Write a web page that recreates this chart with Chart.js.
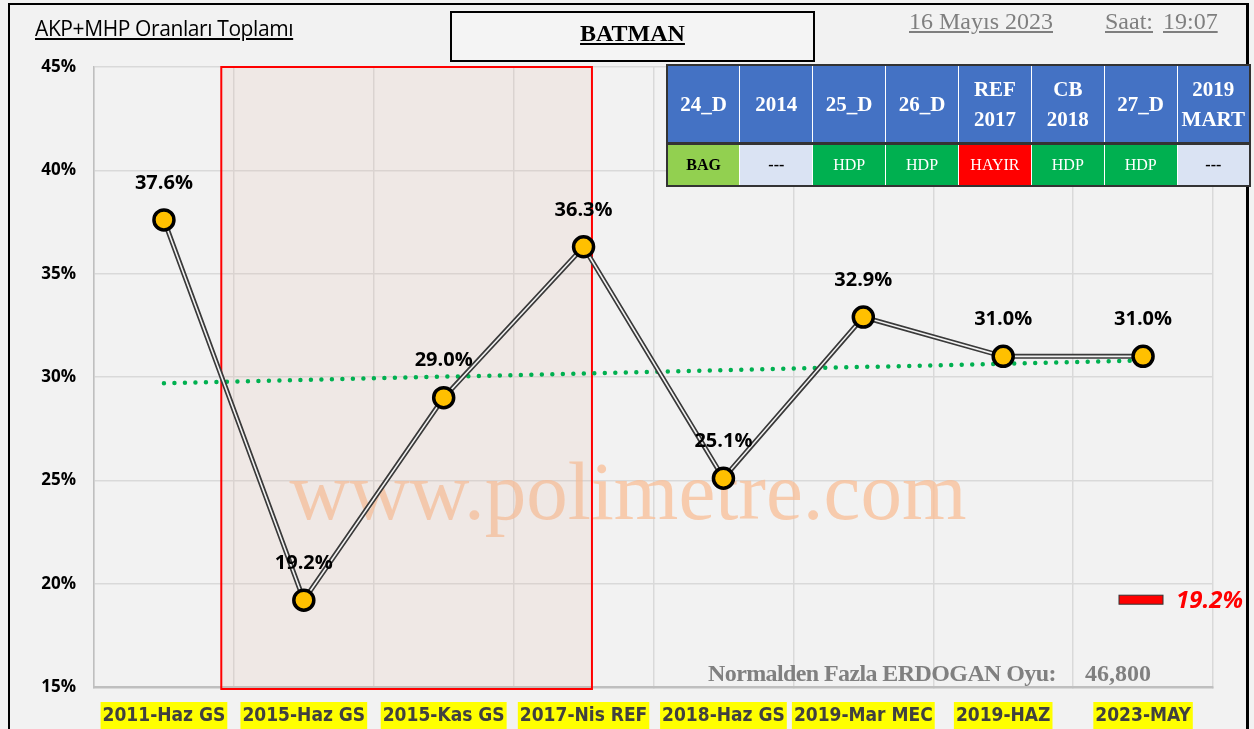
<!DOCTYPE html>
<html>
<head>
<meta charset="utf-8">
<script src="https://cdn.jsdelivr.net/npm/chart.js@4.4.0/dist/chart.umd.min.js"></script>
<style>
  html, body { margin: 0; padding: 0; background: #f2f2f2; }
  #wrap { position: relative; width: 1254px; height: 729px; overflow: hidden; }
  #frame { position: absolute; left: 8px; top: 3px; width: 1241px; height: 740px; border: 2px solid #000; border-right-width: 3px; box-sizing: border-box; }
  canvas { position: absolute; left: 0; top: 0; }
  .txt { position: absolute; white-space: nowrap; }
  #subtitle { left: 35px; top: 14px; font: 21px "Open Sans", sans-serif; text-decoration: underline; color: #000; letter-spacing: -0.4px; }
  #titlebox { left: 450px; top: 11px; width: 365px; height: 51px; border: 2px solid #000; box-sizing: border-box; background: #f4f4f4; }
  #title { left: 450px; top: 20px; width: 365px; text-align: center; font: bold 24px "Liberation Serif", serif; text-decoration: underline; }
  #date { left: 909px; top: 8px; font: 24px "Liberation Serif", serif; color: #7f7f7f; text-decoration: underline; }
  #saat { left: 1105px; top: 8px; font: 24px "Liberation Serif", serif; color: #7f7f7f; }
  #saat u { margin-right: 4px; }
  #extra { left: 708px; top: 660px; font: bold 24px "Liberation Serif", serif; color: #808080; letter-spacing: -0.6px; }
  #extraval { left: 1085px; top: 660px; font: bold 24px "Liberation Serif", serif; color: #808080; }
  table { position: absolute; left: 666px; top: 64px; width: 585px; height: 123px; border-collapse: collapse; border: 2px solid #333; table-layout: fixed; }
  td { border: 1px solid #fff; text-align: center; font-family: "Liberation Serif", serif; padding: 0; }
  tr.head td { background: #4472c4; color: #fff; font-weight: bold; font-size: 21px; height: 76px; line-height: 30px; }
  tr.win td { height: 40px; font-size: 16px; }
  tr.head { border-bottom: 3px solid #333; }
</style>
</head>
<body>
<div id="wrap">
  <canvas id="chart" width="1254" height="729"></canvas>
  <div id="frame"></div>
  <div class="txt" id="subtitle">AKP+MHP Oranları Toplamı</div>
  <div class="txt" id="titlebox"></div>
  <div class="txt" id="title">BATMAN</div>
  <div class="txt" id="date">16 Mayıs 2023</div>
  <div class="txt" id="saat"><u>Saat:</u> <u>19:07</u></div>
  <div class="txt" id="extra">Normalden Fazla ERDOGAN Oyu:</div>
  <div class="txt" id="extraval">46,800</div>
  <table id="tbl"></table>
</div>
<script>
const categories = ['2011-Haz GS', '2015-Haz GS', '2015-Kas GS', '2017-Nis REF', '2018-Haz GS', '2019-Mar MEC', '2019-HAZ', '2023-MAY'];
const akpMhp = [37.6, 19.2, 29.0, 36.3, 25.1, 32.9, 31.0, 31.0];
// trendline ends, the line spans between them
const trendLine = [29.7, null, null, null, null, null, null, 30.8];
const yTicks = [15, 20, 25, 30, 35, 40, 45];
const tableHeads = ['24_D', '2014', '25_D', '26_D', 'REF<br>2017', 'CB<br>2018', '27_D', '2019<br>MART'];
const tableWinners = ['BAG', '---', 'HDP', 'HDP', 'HAYIR', 'HDP', 'HDP', '---'];
const winnerColors = { 'BAG': ['#92d050', '#000'], '---': ['#dae3f3', '#000'], 'HDP': ['#00b050', '#fff'], 'HAYIR': ['#ff0000', '#fff'] };
const minValue = Math.min(...akpMhp);

// table over the top right of the plot
const tbl = document.getElementById('tbl');
let html = '<tr class="head">' + tableHeads.map(h => '<td>' + h + '</td>').join('') + '</tr>';
html += '<tr class="win">' + tableWinners.map(w => {
    const c = winnerColors[w];
    const bold = (w === 'BAG' || w === '---') ? 'font-weight:bold;' : '';
    return '<td style="background:' + c[0] + ';color:' + c[1] + ';' + bold + '">' + w + '</td>';
}).join('') + '</tr>';
tbl.innerHTML = html;

const backdropPlugin = {
    id: 'backdrop',
    beforeDatasetsDraw(chart) {
        const { ctx, chartArea, scales } = chart;
        ctx.save();
        // watermark
        ctx.font = '83px "Liberation Serif", serif';
        ctx.fillStyle = 'rgba(248, 190, 150, 0.75)';
        ctx.textAlign = 'center';
        ctx.textBaseline = 'middle';
        ctx.fillText('www.polimetre.com', 628, 497);
        // highlighted period
        const x0 = scales.x.getPixelForValue(0.41);
        const x1 = scales.x.getPixelForValue(3.06);
        ctx.fillStyle = 'rgba(225, 185, 165, 0.17)';
        ctx.fillRect(x0, chartArea.top, x1 - x0, chartArea.bottom - chartArea.top + 2);
        ctx.strokeStyle = '#ff0000';
        ctx.lineWidth = 2;
        ctx.strokeRect(x0, chartArea.top, x1 - x0, chartArea.bottom - chartArea.top + 2);
        ctx.restore();
    },
    afterDatasetsDraw(chart) {
        const { ctx, scales } = chart;
        ctx.save();
        ctx.font = 'bold 20px "Open Sans", sans-serif';
        ctx.fillStyle = '#000';
        ctx.textAlign = 'center';
        ctx.textBaseline = 'middle';
        akpMhp.forEach((v, i) => {
            const x = scales.x.getPixelForValue(i);
            const y = scales.y.getPixelForValue(v);
            ctx.fillText(v.toFixed(1) + '%', x, y - 37);
        });
        // min marker at the right
        const ym = scales.y.getPixelForValue(minValue);
        ctx.fillStyle = '#ff0000';
        ctx.strokeStyle = '#333';
        ctx.lineWidth = 1;
        ctx.fillRect(1119, ym - 5, 44, 9);
        ctx.strokeRect(1119, ym - 5, 44, 9);
        ctx.font = 'italic bold 24px "Open Sans", sans-serif';
        ctx.textAlign = 'left';
        ctx.fillText(minValue.toFixed(1) + '%', 1176, ym + 1);
        ctx.restore();
    }
};

new Chart(document.getElementById('chart'), {
    type: 'line',
    data: {
        labels: categories,
        datasets: [{
            label: 'trend',
            data: trendLine,
            spanGaps: true,
            borderColor: '#00b050',
            borderWidth: 4.5,
            borderDash: [0, 10.5],
            borderCapStyle: 'round',
            pointRadius: 0,
            order: 3
        }, {
            label: 'outer',
            data: akpMhp,
            borderColor: '#3a3a3a',
            borderWidth: 5,
            pointRadius: 0,
            tension: 0,
            order: 2
        }, {
            label: 'AKP+MHP',
            data: akpMhp,
            borderColor: '#f2f2f2',
            borderWidth: 1.6,
            tension: 0,
            pointRadius: 10,
            pointBorderWidth: 3.5,
            pointBackgroundColor: '#ffc000',
            pointBorderColor: '#000',
            order: 1
        }]
    },
    options: {
        responsive: false,
        animation: false,
        layout: { padding: { left: 0, top: 67, right: 41, bottom: 0 } },
        plugins: { legend: { display: false }, tooltip: { enabled: false } },
        scales: {
            x: {
                offset: true,
                afterFit: s => { s.height = 42; },
                grid: { color: '#d9d9d9', lineWidth: 1.5, offset: true, tickLength: 0 },
                border: { color: '#bfbfbf', width: 2.5 },
                ticks: {
                    padding: 18,
                    color: '#404040',
                    font: { family: '"Liberation Sans Narrow", "DejaVu Sans Condensed", sans-serif', weight: 'bold', size: 19 },
                    showLabelBackdrop: true,
                    backdropColor: '#ffff00',
                    backdropPadding: { left: 2, right: 2, top: 3, bottom: 2 },
                    maxRotation: 0,
                    autoSkip: false
                }
            },
            y: {
                min: 15,
                max: 45,
                afterFit: s => { s.width = 94; },
                afterBuildTicks: s => { s.ticks = yTicks.map(v => ({ value: v })); },
                grid: { color: '#d9d9d9', lineWidth: 1.5, tickLength: 0 },
                border: { color: '#bfbfbf', width: 1.5 },
                ticks: {
                    padding: 18,
                    color: '#000',
                    font: { family: '"Open Sans", sans-serif', weight: 'bold', size: 17 },
                    callback: v => v + '%'
                }
            }
        }
    },
    plugins: [backdropPlugin]
});
</script>
</body>
</html>
